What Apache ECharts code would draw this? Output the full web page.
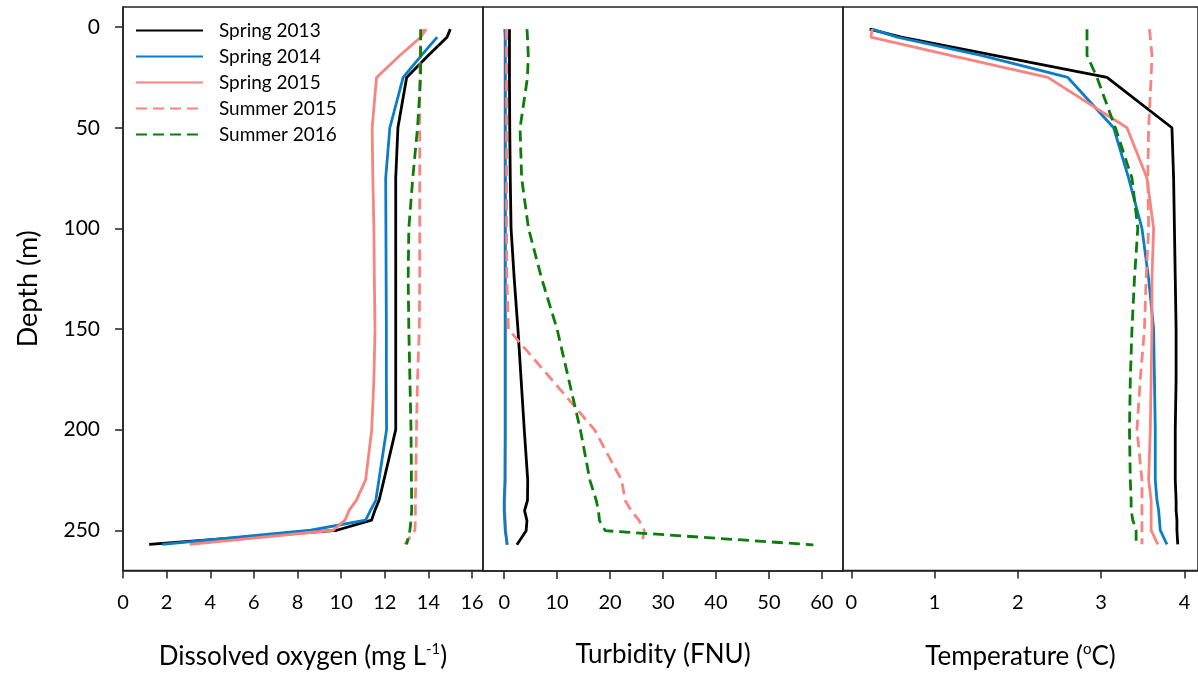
<!DOCTYPE html>
<html>
<head>
<meta charset="utf-8">
<script src="https://cdn.jsdelivr.net/npm/echarts@6/dist/echarts.min.js"></script>
<style>
  html, body { margin: 0; padding: 0; background: #fff; }
  #chart { width: 1198px; height: 675px; }
</style>
</head>
<body>
<div id="chart"></div>
<script>
// depth levels (m), shared by every profile
const depths = [1, 5, 14, 25, 50, 75, 100, 125, 150, 175, 200, 225, 235, 240, 245, 250, 257]
const seriesNames = ['Spring 2013', 'Spring 2014', 'Spring 2015', 'Summer 2015', 'Summer 2016']

// dissolved oxygen (mg/L)
const doSpring2013 = [15.0, 14.85, 14.0, 13.0, 12.6, 12.5, 12.5, 12.5, 12.5, 12.5, 12.5, 11.96, 11.74, 11.55, 11.39, 9.8, 1.2]
const doSpring2014 = [null, 14.4, 13.68, 12.84, 12.23, 12.04, 12.05, 12.06, 12.07, 12.07, 12.08, 11.73, 11.59, 11.35, 11.12, 8.6, 1.8]
const doSpring2015 = [13.9, 13.64, 12.7, 11.62, 11.42, 11.45, 11.5, 11.52, 11.55, 11.5, 11.4, 11.12, 10.7, 10.37, 10.17, 9.63, 3.06]
const doSummer2015 = [13.8, 13.65, 13.62, 13.6, 13.6, 13.6, 13.6, 13.6, 13.58, 13.5, 13.45, 13.42, 13.4, 13.4, 13.4, 13.38, 12.92]
const doSummer2016 = [13.64, 13.64, 13.64, 13.64, 13.5, 13.28, 13.1, 13.07, 13.1, 13.15, 13.2, 13.22, 13.23, 13.23, 13.2, 13.15, 13.0]

// turbidity (FNU)
const turbSpring2013 = [1.0, 1.0, 1.0, 1.0, 1.05, 1.15, 1.3, 1.9, 2.6, 3.2, 3.8, 4.45, 4.4, 3.85, 4.3, 4.15, 2.4]
const turbSpring2014 = [0.1, 0.2, 0.2, 0.2, 0.2, 0.2, 0.2, 0.2, 0.2, 0.2, 0.2, 0.15, 0.0, 0.0, 0.1, 0.2, 0.6]
const turbSpring2015 = [0.2, 0.2, 0.2, 0.2, 0.2, 0.2, 0.2, 0.2, 0.2, 0.2, 0.2, 0.2, 0.1, 0.1, 0.2, 0.3, 0.5]
const turbSummer2015 = [0.4, 0.45, 0.45, 0.45, 0.45, 0.45, 0.45, 0.5, 0.8, 9.0, 17.1, 22.2, 22.85, 24.0, 25.5, 26.5, 25.9]
const turbSummer2016 = [4.3, 4.4, 4.55, 4.4, 3.0, 3.3, 4.6, 7.1, 10.0, 12.2, 14.4, 16.2, 17.4, 17.8, 18.0, 19.1, 58.4]

// temperature (degC)
const tempSpring2013 = [0.22, 0.6, 1.72, 3.07, 3.85, 3.87, 3.88, 3.89, 3.9, 3.9, 3.89, 3.89, 3.9, 3.9, 3.91, 3.91, 3.92]
const tempSpring2014 = [0.25, 0.55, 1.56, 2.6, 3.15, 3.33, 3.49, 3.57, 3.63, 3.64, 3.65, 3.65, 3.67, 3.69, 3.7, 3.71, 3.79]
const tempSpring2015 = [0.25, 0.235, 1.19, 2.36, 3.31, 3.55, 3.63, 3.61, 3.61, 3.6, 3.59, 3.57, 3.6, 3.6, 3.6, 3.6, 3.68]
const tempSummer2015 = [3.58, 3.59, 3.61, 3.6, 3.57, 3.56, 3.57, 3.54, 3.52, 3.47, 3.43, 3.49, 3.49, 3.49, 3.49, 3.49, 3.49]
const tempSummer2016 = [2.83, 2.83, 2.83, 2.95, 3.17, 3.37, 3.44, 3.4, 3.37, 3.35, 3.34, 3.35, 3.36, 3.36, 3.38, 3.42, 3.42]

const depthTicks = [0, 50, 100, 150, 200, 250]
const doTicks = [0, 2, 4, 6, 8, 10, 12, 14, 16]
const turbTicks = [0, 10, 20, 30, 40, 50, 60]
const tempTicks = [0, 1, 2, 3, 4]

const font = 'Lato, "Open Sans", sans-serif'
const styles = [
  { color: '#000000', type: 'solid', width: 2.8 },
  { color: '#0b7dc4', type: 'solid', width: 2.8 },
  { color: '#f7847f', type: 'solid', width: 2.8 },
  { color: '#f7847f', type: [11, 6], width: 2.8 },
  { color: '#0a7d0a', type: [11, 6], width: 2.8 }
]

function pairs (values) {
  const out = []
  values.forEach((v, i) => {
    if (v !== null) out.push([v, depths[i]])
  })
  return out
}

function makeSeries (panel, list) {
  return list.map((values, i) => ({
    name: seriesNames[i],
    type: 'line',
    xAxisIndex: panel,
    yAxisIndex: panel,
    data: pairs(values),
    symbol: 'none',
    showSymbol: false,
    animation: false,
    z: (panel === 1 && i === 2) ? 1 : 2,
    lineStyle: { color: styles[i].color, type: styles[i].type, width: styles[i].width },
    itemStyle: { color: styles[i].color }
  }))
}

function xAxis (panel, min, max, ticks, name) {
  return {
    type: 'value',
    gridIndex: panel,
    min: min,
    max: max,
    name: name,
    nameLocation: 'middle',
    nameGap: 71,
    nameTextStyle: {
      fontFamily: font,
      fontSize: 26,
      color: '#000',
      rich: { sup: { fontFamily: font, fontSize: 15, color: '#000', verticalAlign: 'top', padding: [0, 0, 16, 0] } }
    },
    axisLine: { show: true, onZero: false, lineStyle: { color: '#222', width: 1.5 } },
    axisTick: { show: true, customValues: ticks, length: 8, lineStyle: { color: '#222', width: 1.5 } },
    axisLabel: { customValues: ticks, margin: 22, fontFamily: font, fontSize: 20, color: '#000' },
    splitLine: { show: false }
  }
}

function yAxis (panel) {
  const shown = panel === 0
  return {
    type: 'value',
    gridIndex: panel,
    inverse: true,
    min: -10,
    max: 270,
    show: shown,
    name: shown ? 'Depth (m)' : '',
    nameLocation: 'middle',
    nameGap: 81,
    nameTextStyle: { fontFamily: font, fontSize: 27, color: '#000' },
    axisLine: { show: true, onZero: false, lineStyle: { color: '#222', width: 1.5 } },
    axisTick: { show: true, customValues: depthTicks, length: 8, lineStyle: { color: '#222', width: 1.5 } },
    axisLabel: { customValues: depthTicks, margin: 23, fontFamily: font, fontSize: 21, color: '#000' },
    splitLine: { show: false }
  }
}

const chart = echarts.init(document.getElementById('chart'))
const gridBase = { top: 7, height: 564, show: true, borderColor: '#222', borderWidth: 1.5, containLabel: false }

const option = {
  backgroundColor: '#fff',
  animation: false,
  legend: {
    left: 135,
    top: 21,
    padding: 0,
    orient: 'vertical',
    itemWidth: 67,
    itemHeight: 14,
    itemGap: 7,
    itemStyle: { opacity: 0 },
    data: seriesNames,
    textStyle: { fontFamily: font, fontSize: 19, lineHeight: 14, color: '#000', padding: [0, 0, 0, 11] }
  },
  grid: [
    Object.assign({ left: 123, width: 360 }, gridBase),
    Object.assign({ left: 483, width: 360 }, gridBase),
    Object.assign({ left: 843, width: 357 }, gridBase)
  ],
  xAxis: [
    xAxis(0, 0, 16.5, doTicks, 'Dissolved oxygen (mg L{sup|-1})'),
    xAxis(1, -4, 64, turbTicks, 'Turbidity (FNU)'),
    xAxis(2, -0.1, 4.163, tempTicks, 'Temperature ({sup|o}C)')
  ],
  yAxis: [yAxis(0), yAxis(1), yAxis(2)],
  series: [].concat(
    makeSeries(0, [doSpring2013, doSpring2014, doSpring2015, doSummer2015, doSummer2016]),
    makeSeries(1, [turbSpring2013, turbSpring2014, turbSpring2015, turbSummer2015, turbSummer2016]),
    makeSeries(2, [tempSpring2013, tempSpring2014, tempSpring2015, tempSummer2015, tempSummer2016])
  )
}
chart.setOption(option)
</script>
</body>
</html>
